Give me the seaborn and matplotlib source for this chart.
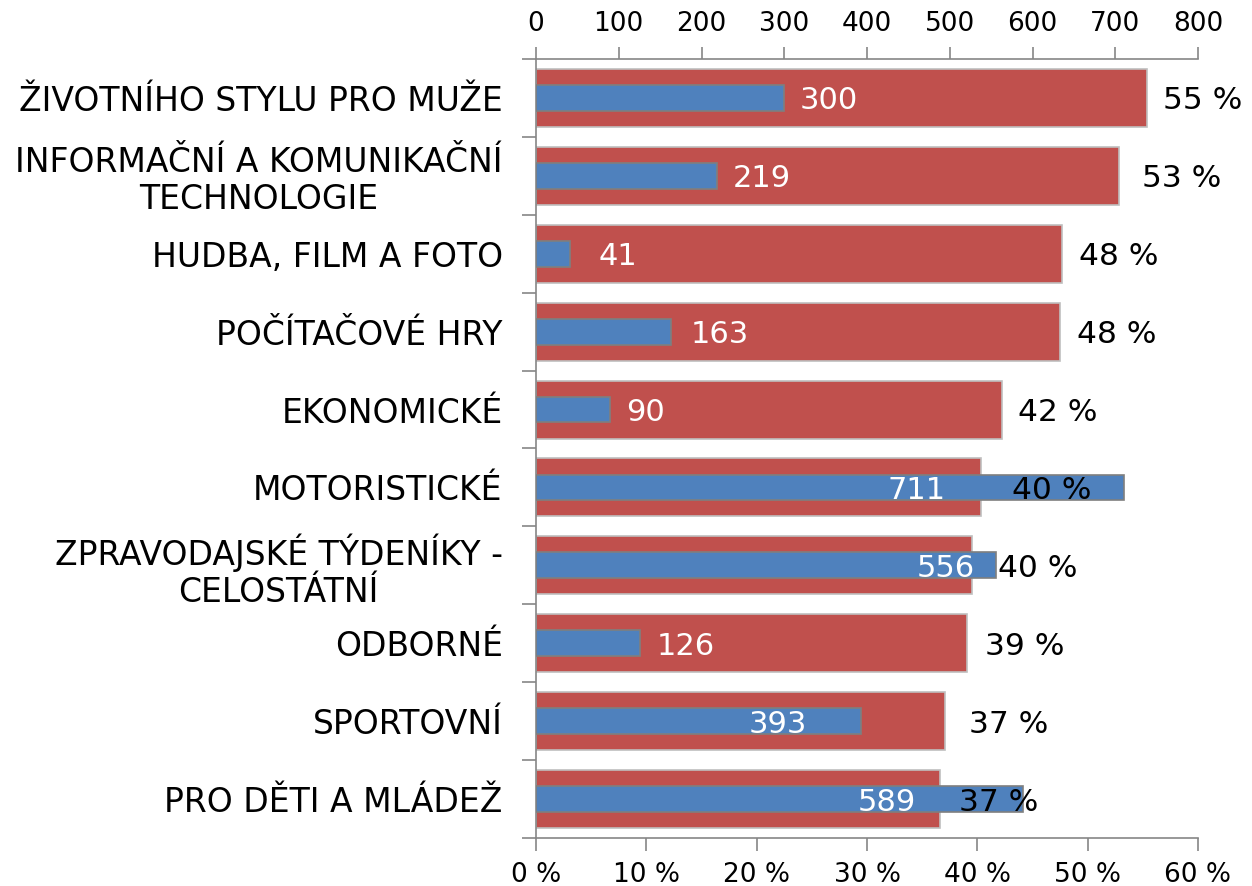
import matplotlib
matplotlib.use("Agg")
import matplotlib.pyplot as plt
import seaborn as sns
import pandas as pd
from matplotlib.ticker import FuncFormatter, FixedLocator

categories = [
    "ŽIVOTNÍHO STYLU PRO MUŽE",
    "INFORMAČNÍ A KOMUNIKAČNÍ\nTECHNOLOGIE",
    "HUDBA, FILM A FOTO",
    "POČÍTAČOVÉ HRY",
    "EKONOMICKÉ",
    "MOTORISTICKÉ",
    "ZPRAVODAJSKÉ TÝDENÍKY -\nCELOSTÁTNÍ",
    "ODBORNÉ",
    "SPORTOVNÍ",
    "PRO DĚTI A MLÁDEŽ",
]
share_pct = [55.4, 52.8, 47.7, 47.5, 42.2, 40.3, 39.5, 39.1, 37.1, 36.6]
share_labels = ["55 %", "53 %", "48 %", "48 %", "42 %", "40 %", "40 %", "39 %", "37 %", "37 %"]
counts = [300, 219, 41, 163, 90, 711, 556, 126, 393, 589]

# label anchors (left edges)
share_label_x = [56.8, 54.9, 49.2, 49.0, 43.7, 43.1, 41.9, 40.7, 39.2, 38.3]
count_label_x = [319, 238, 75, 187, 109, 425, 460, 146, 257, 389]

RED = "#C0504D"
BLUE = "#4F81BD"
AXIS = "#868686"

sns.set_theme(style="white")
plt.rcParams["font.family"] = ["DejaVu Sans"]

df = pd.DataFrame({"cat": categories, "pct": share_pct, "cnt": counts})

fig = plt.figure(figsize=(12.52, 8.86), dpi=100)
ax = fig.add_axes([536 / 1252, 1 - 838 / 886, (1198 - 536) / 1252, (838 - 59) / 886])

sns.barplot(data=df, x="pct", y="cat", orient="h", color=RED, width=0.745,
            edgecolor="#BFBFBF", linewidth=1.2, saturation=1, ax=ax)
ax.set_xlim(0, 60)
ax.set_ylim(9.5, -0.5)

ax2 = ax.twiny()
sns.barplot(data=df, x="cnt", y="cat", orient="h", color=BLUE, width=0.33,
            edgecolor="#7F7F7F", linewidth=1.2, saturation=1, ax=ax2)
ax2.set_xlim(0, 800)
ax2.set_ylim(9.5, -0.5)

for a in (ax, ax2):
    a.set_xlabel("")
    a.set_ylabel("")
    for s in a.spines.values():
        s.set_visible(False)

for a, side in ((ax, "left"), (ax, "bottom"), (ax2, "top")):
    a.spines[side].set_visible(True)
    a.spines[side].set_color(AXIS)
    a.spines[side].set_linewidth(1.2)

# bottom percent axis
ax.set_xticks(range(0, 61, 10))
ax.xaxis.set_major_formatter(FuncFormatter(lambda v, p: f"{int(v)} %"))
ax.tick_params(axis="x", which="major", bottom=True, direction="out", length=9,
               width=1.2, color=AXIS, labelsize=19, pad=8, labelcolor="black")

# top count axis
ax2.set_xticks(range(0, 801, 100))
ax2.tick_params(axis="x", which="major", top=True, direction="out", length=9,
                width=1.2, color=AXIS, labelsize=19, pad=7, labelcolor="black")

# category axis: labels at centres, ticks at boundaries
ax.set_yticks(range(len(categories)))
ax.set_yticklabels(categories)
ax.yaxis.set_minor_locator(FixedLocator([i - 0.5 for i in range(len(categories) + 1)]))
ax.tick_params(axis="y", which="major", left=True, length=0, labelsize=23.8,
               pad=24, labelcolor="black")
ax.tick_params(axis="y", which="minor", left=True, length=10, width=1.2,
               color=AXIS, direction="out")
for lab in ax.get_yticklabels():
    lab.set_multialignment("center")
    lab.set_linespacing(1.15)
ax2.tick_params(axis="y", left=False, right=False, labelleft=False, labelright=False)

# value labels (drawn on the top axes so they sit above all bars)
for i in range(len(categories)):
    ax2.text(count_label_x[i], i, str(counts[i]), color="white", fontsize=22,
             ha="left", va="center_baseline")
    ax2.text(share_label_x[i] / 60 * 800, i, share_labels[i], color="black",
             fontsize=22.5, ha="left", va="center_baseline")

fig.savefig("out.png", dpi=100, facecolor="white")
